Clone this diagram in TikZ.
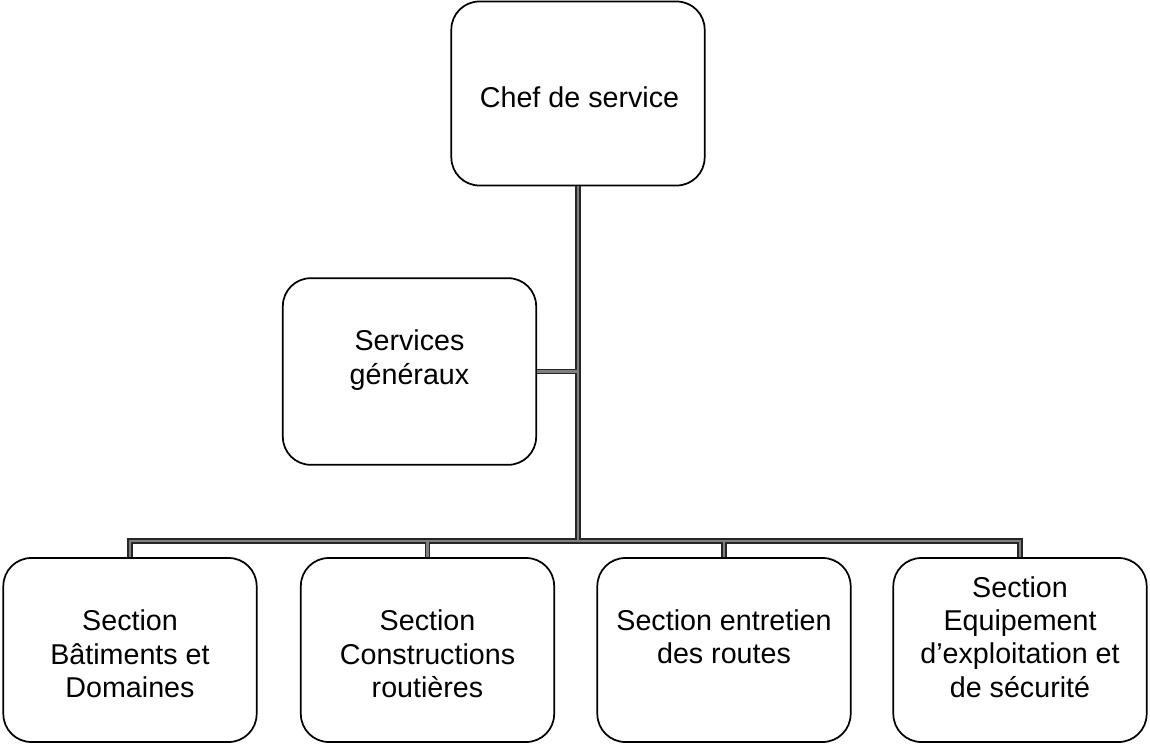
\documentclass[tikz,border=0pt]{standalone}
\usepackage{fontspec}
\setmainfont{Liberation Sans}
\usetikzlibrary{calc}

\begin{document}
\begin{tikzpicture}[x=0.75pt,y=0.75pt,yscale=-1,xscale=1,
  unit/.style={draw=black,line width=1.3pt,rounded corners=21pt,minimum width=190pt,minimum height=138pt,inner sep=0pt},
  txt/.style={align=center,inner sep=0pt,font=\fontsize{21.5}{25}\selectfont},
  link/.style={draw=black!85,line width=1.1pt,double=black!50,double distance=2.2pt}]
%set diagram left start at 0, and has height of 745
\path[use as bounding box] (0,0) rectangle (1150,745);

%Shape: Rounded Rect [id:chef]
\node[unit] (chef) at (578,93.5) {};
%Shape: Rounded Rect [id:gen]
\node[unit,minimum height=140pt] (gen) at (409.5,371.5) {};
%Shape: Rounded Rect [id:sec1..sec4]
\node[unit] (sec1) at (130,650) {};
\node[unit] (sec2) at (427.5,650) {};
\node[unit] (sec3) at (724,650) {};
\node[unit] (sec4) at (1020,650) {};

%Junction of the bar
\coordinate (bar) at (578,541);

%Straight Lines [id:links]
\path[link] (chef.south) -- (bar)
  (gen.east) -- (gen.east -| bar)
  (sec1.north) -- (sec1.north |- bar) -- (sec4.north |- bar) -- (sec4.north)
  (sec2.north) -- (sec2.north |- bar)
  (sec3.north) -- (sec3.north |- bar);

% Text Node
\node[txt] (chefT) at (579.5,97) {Chef de service};
% Text Node
\node[txt] (genT) at (409.5,360) {Services\\généraux};
% Text Node
\node[txt] (sec1T) at (130,654) {Section\\Bâtiments et\\Domaines};
% Text Node
\node[txt] (sec2T) at (427.5,654) {Section\\Constructions\\routières};
% Text Node
\node[txt] (sec3T) at (724,637) {Section entretien\\des routes};
% Text Node
\node[txt] (sec4T) at (1020,637) {Section\\Equipement\\d’exploitation et\\de sécurité};

\end{tikzpicture}
\end{document}
